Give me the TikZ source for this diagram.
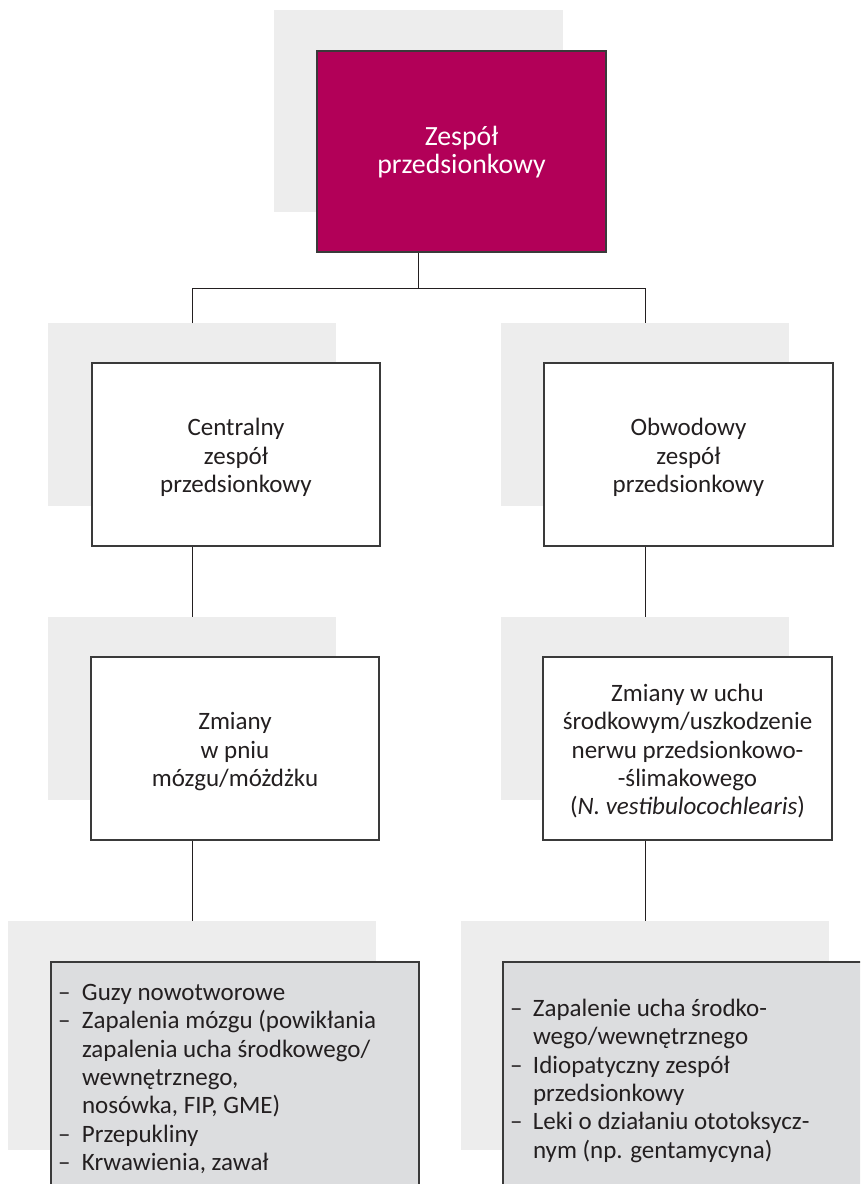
\documentclass[tikz,border=0pt]{standalone}
\usepackage{fontspec}
\setmainfont{Carlito}
\definecolor{mag}{RGB}{178,0,88}
\definecolor{shad}{RGB}{237,237,237}
\definecolor{lgray}{RGB}{220,221,223}
\definecolor{ink}{RGB}{35,31,32}
\definecolor{edge}{RGB}{58,58,58}
\newcommand{\boxtext}[2][-4pt]{\raisebox{#1}[\height][\depth]{\begin{tabular}{@{}c@{}}#2\end{tabular}}}
\begin{document}
\begin{tikzpicture}[x=1pt,y=-1pt,
  every node/.style={inner sep=0pt, outer sep=0pt},
  shadowbox/.style={fill=shad, draw=none, anchor=north west},
  mainbox/.style={draw=edge, line width=1.1pt, anchor=north west,
     text=ink, font=\fontsize{25}{28.3}\selectfont},
  listbox/.style={fill=lgray, draw=edge, line width=1.1pt, anchor=north west},
  listtext/.style={anchor=north west, align=left, text=ink, font=\fontsize{25}{28.4}\selectfont},
  conn/.style={draw=ink, line width=1pt}]
\useasboundingbox (0,0) rectangle (860,1184);
\clip (0,0) rectangle (860,1184);
\fill[white] (0,0) rectangle (860,1184);
% shadows
\node[shadowbox, minimum width=289pt, minimum height=202pt] (topsh) at (274,10) {};
\node[shadowbox, minimum width=288pt, minimum height=183pt] (csh) at (48,323) {};
\node[shadowbox, minimum width=288pt, minimum height=183pt] (osh) at (501,323) {};
\node[shadowbox, minimum width=288pt, minimum height=183pt] (zsh) at (48,617) {};
\node[shadowbox, minimum width=288pt, minimum height=183pt] (ush) at (501,617) {};
\node[shadowbox, minimum width=368pt, minimum height=229pt] (lsh) at (8,921) {};
\node[shadowbox, minimum width=368pt, minimum height=229pt] (rsh) at (461,921) {};
% connectors
\coordinate (j) at (topsh.center |- 0,288);
\draw[conn] (topsh.center |- 0,252) -- (j);
\draw[conn] (csh.north) -- (csh.north |- j) -- (osh.north |- j) -- (osh.north);
\draw[conn] (csh.center |- 0,546) -- (zsh.north);
\draw[conn] (osh.center |- 0,546) -- (ush.north);
\draw[conn] (zsh.center |- 0,840) -- (lsh.north);
\draw[conn] (ush.center |- 0,840) -- (rsh.north);
% boxes
\node[mainbox, fill=mag, text=white, minimum width=289pt, minimum height=201pt,
  font=\fontsize{27.8}{28.5}\selectfont] (top) at (317,51)
  {\boxtext[-2.5pt]{Zespół\\przedsionkowy}};
\node[mainbox, fill=white, minimum width=288pt, minimum height=183pt] (cbox) at (92,363)
  {\boxtext{Centralny\\zespół\\przedsionkowy}};
\node[mainbox, fill=white, minimum width=289pt, minimum height=183pt] (obox) at (544,363)
  {\boxtext{Obwodowy\\zespół\\przedsionkowy}};
\node[mainbox, fill=white, minimum width=288pt, minimum height=183pt] (zbox) at (91,657)
  {\boxtext{Zmiany\\w pniu\\mózgu/móżdżku}};
\node[mainbox, fill=white, minimum width=289pt, minimum height=183pt] (ubox) at (543,657)
  {\boxtext{Zmiany w uchu\\środkowym/uszkodzenie\\nerwu przedsionkowo-\\-ślimakowego\\(\textit{N. vestibulocochlearis})}};
\node[listbox, minimum width=368pt, minimum height=240pt] (lbox) at (51,962) {};
\node[listbox, minimum width=368pt, minimum height=240pt] (rbox) at (503,962) {};
% list texts
\node[listtext] (ltxt) at (58,984)
  {\makebox[24pt][l]{–}Guzy nowotworowe\\
   \makebox[24pt][l]{–}Zapalenia mózgu (powikłania\\
   \hspace*{24pt}zapalenia ucha środkowego/\\
   \hspace*{24pt}wewnętrznego,\\
   \hspace*{24pt}nosówka, FIP, GME)\\
   \makebox[24pt][l]{–}Przepukliny\\
   \makebox[24pt][l]{–}Krwawienia, zawał};
\node[listtext] (rtxt) at (510,999)
  {\makebox[23pt][l]{–}Zapalenie ucha środko-\\
   \hspace*{23pt}wego/wewnętrznego\\
   \makebox[23pt][l]{–}Idiopatyczny zespół\\
   \hspace*{23pt}przedsionkowy\\
   \makebox[23pt][l]{–}Leki o działaniu ototoksycz-\\
   \hspace*{23pt}nym (np. gentamycyna)};
\end{tikzpicture}
\end{document}
